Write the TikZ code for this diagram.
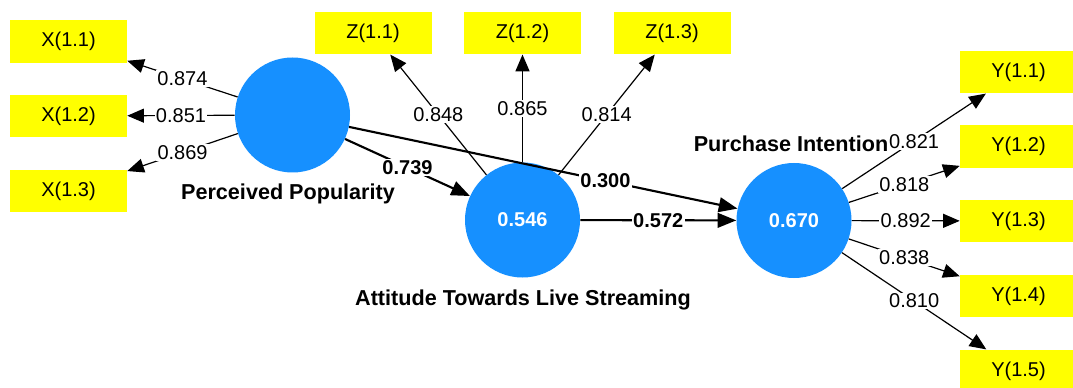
\documentclass[tikz,border=0pt]{standalone}
\usepackage{fontspec}
\setmainfont{Liberation Sans}
\usetikzlibrary{arrows.meta}
\definecolor{lvblue}{RGB}{22,144,255}
\definecolor{indyellow}{RGB}{255,255,0}
\begin{document}
\begin{tikzpicture}[x=0.75pt,y=-0.75pt,
  ind/.style={fill=indyellow, minimum width=87.75pt, minimum height=32pt, inner sep=0pt, font=\fontsize{15}{17}\selectfont},
  lv/.style={circle, fill=lvblue, minimum size=86.25pt, inner sep=0pt, text=white, font=\bfseries\fontsize{15}{17}\selectfont},
  lvname/.style={font=\bfseries\fontsize{16.2}{19}\selectfont},
  outer/.style={-{Triangle[length=12.5pt,width=10.5pt]}, line width=0.9pt},
  inner/.style={-{Triangle[length=14pt,width=11pt]}, line width=1.6pt},
  wt/.style={fill=white, inner sep=1pt, font=\fontsize{15}{17}\selectfont},
  pc/.style={fill=white, inner sep=1pt, font=\bfseries\fontsize{15}{17}\selectfont}]
\clip (0,0) rectangle (1073,388);
\fill[white] (0,0) rectangle (1073,388);
% indicators
\node[ind] (x1) at (68.5,41.5) {X(1.1)};
\node[ind] (x2) at (68.5,116) {X(1.2)};
\node[ind] (x3) at (68.5,191) {X(1.3)};
\node[ind] (z1) at (373,33) {Z(1.1)};
\node[ind] (z2) at (522.5,33) {Z(1.2)};
\node[ind] (z3) at (672,33) {Z(1.3)};
\node[ind] (y1) at (1018.5,72) {Y(1.1)};
\node[ind] (y2) at (1018.5,146.5) {Y(1.2)};
\node[ind] (y3) at (1018.5,221) {Y(1.3)};
\node[ind] (y4) at (1018.5,296) {Y(1.4)};
\node[ind] (y5) at (1018.5,371) {Y(1.5)};
% latent variables
\node[lv] (pp) at (292.5,115) {};
\node[lv] (att) at (522.5,220) {0.546};
\node[lv] (pi) at (794,220.5) {0.670};
\node[lvname] (ppn) at (288,194) {Perceived Popularity};
\node[lvname] (attn) at (523,300) {Attitude Towards Live Streaming};
\node[lvname] (pin) at (791,144) {Purchase Intention};
% outer loadings
\draw[outer] (pp) -- node[wt] {0.874} (x1);
\draw[outer] (pp) -- node[wt] {0.851} (x2);
\draw[outer] (pp) -- node[wt] {0.869} (x3);
\draw[outer] (att) -- node[wt] {0.848} (z1);
\draw[outer] (att) -- node[wt] {0.865} (z2);
\draw[outer] (att) -- node[wt] {0.814} (z3);
\draw[outer] (pi) -- node[wt] {0.821} (y1);
\draw[outer] (pi) -- node[wt] {0.818} (y2);
\draw[outer] (pi) -- node[wt] {0.892} (y3);
\draw[outer] (pi) -- node[wt] {0.838} (y4);
\draw[outer] (pi) -- node[wt] {0.810} (y5);
% path coefficients
\draw[inner] (pp) -- node[pc] {0.739} (att);
\draw[inner] (pp) -- node[pc, pos=0.66] {0.300} (pi);
\draw[inner] (att) -- node[pc] {0.572} (pi);
\end{tikzpicture}
\end{document}
